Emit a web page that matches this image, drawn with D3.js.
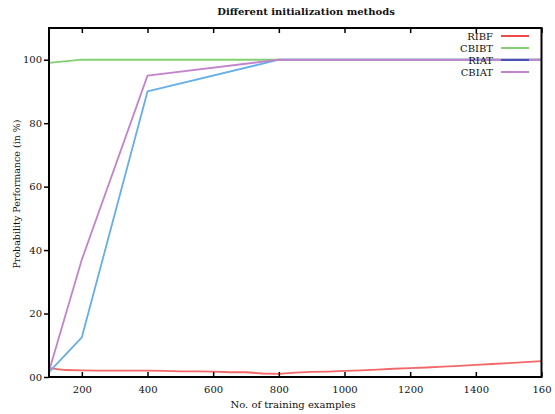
<!DOCTYPE html>
<html>
<head>
<meta charset="utf-8">
<script src="https://cdn.jsdelivr.net/npm/d3@7"></script>
<style>
  html, body { margin: 0; padding: 0; background: #fff; }
  svg { display: block; }
  text { font-family: "DejaVu Serif", "Liberation Serif", serif; fill: #111; }
</style>
</head>
<body>
<svg id="chart" width="555" height="414"></svg>
<script>
// ---- data ----
const seriesNames = ["RIBF", "CBIBT", "RIAT", "CBIAT"];
const ribfX = [100,125,150,200,250,300,350,400,450,500,550,600,650,700,750,800,850,900,950,1000,1050,1100,1150,1200,1250,1300,1350,1400,1450,1500,1550,1600];
const ribfY = [2.8,2.5,2.2,2.1,2.0,2.0,2.0,2.0,1.95,1.8,1.8,1.7,1.5,1.5,1.1,1.0,1.4,1.6,1.7,1.9,2.1,2.3,2.6,2.8,3.0,3.3,3.5,3.8,4.1,4.4,4.7,5.0];
const cbibtX = [100,200,400,800,1600];
const cbibtY = [99,100,100,100,100];
const riatX = [100,200,400,800,1600];
const riatY = [1.5,12.5,90,100,100];
const cbiatX = [100,200,400,800,1600];
const cbiatY = [1.8,37,95,100,100];
const xTicks = [200,400,600,800,1000,1200,1400,1600];
const xTickLabels = ["200","400","600","800","1000","1200","1400","160"];
const yTicks = [0,20,40,60,80,100];
const yTickLabels = ["00","20","40","60","80","100"];
const title = "Different initialization methods";
const xLabel = "No. of training examples";
const yLabel = "Probability Performance (in %)";

// ---- styles ----
const lineColors = ["#f26868", "#84cf72", "#66aee8", "#c383cc"];
const legendColors = ["#f04a4a", "#84cf72", "#4a50b4", "#c383cc"];

const svg = d3.select("#chart");
const L = 49, R = 541.5, T = 28, B = 377;
const x = d3.scaleLinear().domain([100, 1600]).range([L, R]);
const y = d3.scaleLinear().domain([0, 110]).range([B, T]);

const series = [
  ribfX.map((v, i) => [v, ribfY[i]]),
  cbibtX.map((v, i) => [v, cbibtY[i]]),
  riatX.map((v, i) => [v, riatY[i]]),
  cbiatX.map((v, i) => [v, cbiatY[i]])
];

const line = d3.line().x(d => x(d[0])).y(d => y(d[1]));
series.forEach((s, i) => {
  svg.append("path").datum(s).attr("d", line)
    .attr("fill", "none").attr("stroke", lineColors[i])
    .attr("stroke-width", 1.8).attr("stroke-linejoin", "round");
});

// frame
svg.append("rect").attr("x", L).attr("y", T).attr("width", R - L).attr("height", B - T)
  .attr("fill", "none").attr("stroke", "#000").attr("stroke-width", 2);

// bottom axis (inward ticks)
const xAxis = d3.axisBottom(x).tickValues(xTicks)
  .tickFormat((d, i) => xTickLabels[i]).tickSizeInner(-5).tickSizeOuter(0).tickPadding(9);
const gx = svg.append("g").attr("transform", `translate(0,${B})`).call(xAxis);
gx.select(".domain").remove();
gx.selectAll("line").attr("stroke", "#000").attr("stroke-width", 1.5);
gx.selectAll("text").attr("font-size", "10px").attr("font-family", "DejaVu Serif, serif");

// top mirrored ticks
const xTop = d3.axisTop(x).tickValues(xTicks).tickFormat("").tickSizeInner(-5).tickSizeOuter(0);
const gt = svg.append("g").attr("transform", `translate(0,${T})`).call(xTop);
gt.select(".domain").remove();
gt.selectAll("line").attr("stroke", "#000").attr("stroke-width", 1.5);

// left axis (outward ticks)
const yAxis = d3.axisLeft(y).tickValues(yTicks)
  .tickFormat((d, i) => yTickLabels[i]).tickSizeInner(5).tickSizeOuter(0).tickPadding(2);
const gy = svg.append("g").attr("transform", `translate(${L},0)`).call(yAxis);
gy.select(".domain").remove();
gy.selectAll("line").attr("stroke", "#000").attr("stroke-width", 1.5);
gy.selectAll("text").attr("font-size", "10px").attr("font-family", "DejaVu Serif, serif");

// titles
svg.append("text").attr("x", 306).attr("y", 15).attr("text-anchor", "middle")
  .attr("font-size", "10px").attr("font-weight", "bold").text(title);
svg.append("text").attr("x", 293).attr("y", 408).attr("text-anchor", "middle")
  .attr("font-size", "10px").text(xLabel);
svg.append("text").attr("transform", "translate(20,194) rotate(-90)").attr("text-anchor", "middle")
  .attr("font-size", "9.5px").text(yLabel);

// legend
seriesNames.forEach((n, i) => {
  const yy = 36 + i * 12;
  svg.append("text").attr("x", 493).attr("y", yy).attr("dy", "0.35em")
    .attr("text-anchor", "end").attr("font-size", "10px").text(n);
  svg.append("line").attr("x1", 501).attr("x2", 529).attr("y1", yy).attr("y2", yy)
    .attr("stroke", legendColors[i]).attr("stroke-width", 2);
});
</script>
</body>
</html>
